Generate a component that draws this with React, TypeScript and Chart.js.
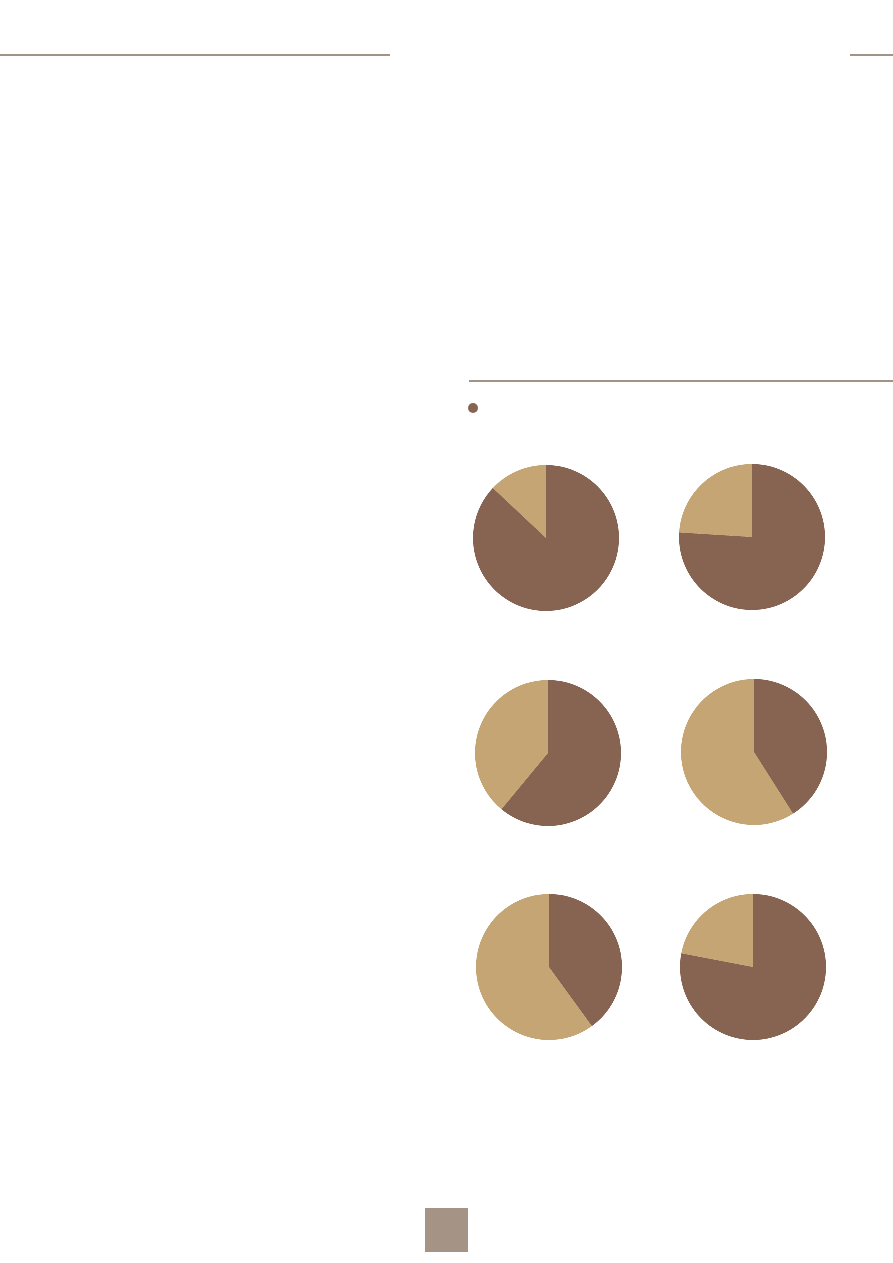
import React, { useEffect, useRef } from 'react';
import Chart from 'chart.js/auto';

// share per pie (dark slice first, from 12 o'clock clockwise)
const pieNames = ['P1', 'P2', 'P3', 'P4', 'P5', 'P6'];
const categories = ['A', 'B'];
const darkShare = [87, 76, 61, 41, 40, 78];
const lightShare = [13, 24, 39, 59, 60, 22];

const DARK = '#876451';
const LIGHT = '#c4a573';
const RULE = '#a39384';

const PIE_RADIUS = 73;
const PIE_PAD = 6;
const CANVAS_SIZE = PIE_RADIUS * 2 + PIE_PAD * 2;
// centres of the six pies on the page
const pieCentres: Array<[number, number]> = [
  [546, 538],
  [752, 537],
  [548, 753],
  [754, 752],
  [549, 967],
  [753, 967],
];

interface PieProps {
  dark: number;
  light: number;
  cx: number;
  cy: number;
}

const SmallPie: React.FC<PieProps> = ({ dark, light, cx, cy }) => {
  const canvasRef = useRef<HTMLCanvasElement>(null);
  const chartRef = useRef<Chart | null>(null);

  useEffect(() => {
    if (!canvasRef.current) return;
    if (chartRef.current) chartRef.current.destroy();
    const ctx = canvasRef.current.getContext('2d');
    if (!ctx) return;

    chartRef.current = new Chart(ctx, {
      type: 'pie',
      data: {
        labels: categories,
        datasets: [
          {
            data: [dark, light],
            backgroundColor: [DARK, LIGHT],
            borderWidth: 0,
          },
        ],
      },
      options: {
        responsive: false,
        animation: false,
        devicePixelRatio: 4,
        layout: { padding: PIE_PAD },
        plugins: {
          legend: { display: false },
          tooltip: { enabled: false },
        },
      },
    });

    return () => {
      if (chartRef.current) {
        chartRef.current.destroy();
        chartRef.current = null;
      }
    };
  }, [dark, light]);

  return (
    <div
      style={{
        position: 'absolute',
        left: cx - CANVAS_SIZE / 2,
        top: cy - CANVAS_SIZE / 2,
        width: CANVAS_SIZE,
        height: CANVAS_SIZE,
      }}
    >
      <canvas ref={canvasRef} width={CANVAS_SIZE} height={CANVAS_SIZE} />
    </div>
  );
};

export default function App() {
  return (
    <div style={{ position: 'absolute', left: 0, top: 0, width: 893, height: 1263, background: '#fff', overflow: 'hidden' }}>
      {/* page rules */}
      <div style={{ position: 'absolute', left: 0, top: 54, width: 390, height: 2, background: RULE }} />
      <div style={{ position: 'absolute', left: 850, top: 54, width: 43, height: 2, background: RULE }} />
      <div style={{ position: 'absolute', left: 469, top: 380, width: 424, height: 2, background: RULE }} />

      {/* legend marker */}
      <div
        style={{
          position: 'absolute',
          left: 468,
          top: 403,
          width: 10,
          height: 10,
          borderRadius: '50%',
          background: DARK,
        }}
      />

      {pieNames.map((name, i) => (
        <SmallPie
          key={name}
          dark={darkShare[i]}
          light={lightShare[i]}
          cx={pieCentres[i][0]}
          cy={pieCentres[i][1]}
        />
      ))}

      {/* page number box */}
      <div style={{ position: 'absolute', left: 425, top: 1208, width: 43, height: 44, background: '#a59485' }} />
    </div>
  );
}
